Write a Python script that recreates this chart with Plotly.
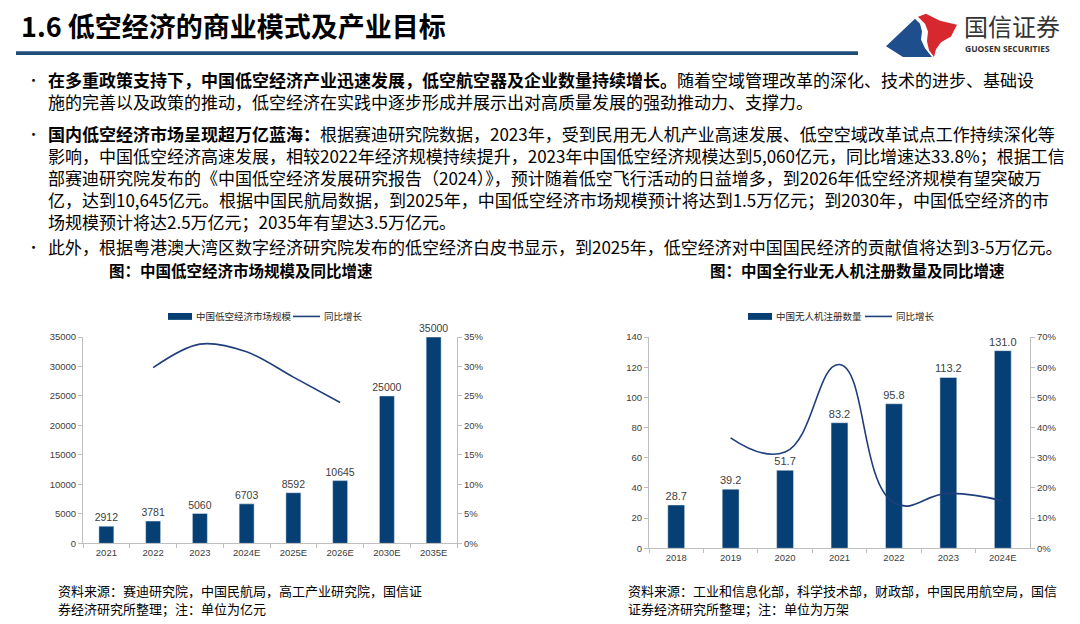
import plotly.graph_objects as go

W, H = 1080, 624

# left chart: low-altitude economy market size (100m yuan) and yoy growth
market_years = ["2021", "2022", "2023", "2024E", "2025E", "2026E", "2030E", "2035E"]
market_size = [2912, 3781, 5060, 6703, 8592, 10645, 25000, 35000]
market_yoy = [None, 0.298, 0.338, 0.325, 0.282, 0.239, None, None]

# right chart: registered drones (10k units) and yoy growth
drone_years = ["2018", "2019", "2020", "2021", "2022", "2023", "2024E"]
drone_count = [28.7, 39.2, 51.7, 83.2, 95.8, 113.2, 131.0]
drone_yoy = [None, 0.366, 0.319, 0.609, 0.151, 0.182, 0.157]

BAR = "#063f73"
LINE = "#1f3e7c"
AXIS = "#bfbfbf"
TICK = "#404040"
CJK = "Noto Sans CJK SC"
SANS = "Liberation Sans"


def px(x):
    return x / W


def py(y):
    return 1 - y / H


fig = go.Figure()

fig.add_trace(go.Bar(
    x=market_years, y=market_size, width=0.32, marker_color=BAR,
    text=market_size, textposition="outside", cliponaxis=False, constraintext="none",
    textfont=dict(family=SANS, size=10.5, color=TICK),
    xaxis="x", yaxis="y", showlegend=False,
))
fig.add_trace(go.Scatter(
    x=market_years, y=market_yoy, mode="lines",
    line=dict(color=LINE, width=1.6, shape="spline", smoothing=1.0),
    xaxis="x", yaxis="y2", showlegend=False,
))
fig.add_trace(go.Bar(
    x=drone_years, y=drone_count, width=0.31, marker_color=BAR,
    text=[f"{v:.1f}" for v in drone_count], textposition="outside", cliponaxis=False,
    constraintext="none",
    textfont=dict(family=SANS, size=11, color=TICK),
    xaxis="x2", yaxis="y3", showlegend=False,
))
fig.add_trace(go.Scatter(
    x=drone_years, y=drone_yoy, mode="lines",
    line=dict(color=LINE, width=1.6, shape="spline", smoothing=1.3),
    xaxis="x2", yaxis="y4", showlegend=False,
))

xcommon = dict(type="category", showline=True, linecolor=AXIS, linewidth=1,
               ticks="outside", tickson="boundaries", ticklen=4, tickcolor=AXIS,
               tickfont=dict(family=SANS, size=9.5, color=TICK), showgrid=False)
ycommon = dict(showline=True, linecolor=AXIS, linewidth=1, ticks="outside",
               ticklen=4, tickcolor=AXIS, showgrid=False, zeroline=False,
               tickfont=dict(family=SANS, size=9.5, color=TICK))

fig.update_layout(
    width=W, height=H,
    margin=dict(l=0, r=0, t=0, b=0),
    paper_bgcolor="white", plot_bgcolor="white",
    xaxis=dict(domain=[px(83), px(457)], anchor="y", **xcommon),
    yaxis=dict(domain=[py(547), py(337)], anchor="x", range=[0, 35000], dtick=5000,
               tickformat="d", **ycommon),
    yaxis2=dict(overlaying="y", anchor="x", side="right", range=[0, 0.35], dtick=0.05,
                tickformat=".0%", **ycommon),
    xaxis2=dict(domain=[px(649), px(1030)], anchor="y3", **xcommon),
    yaxis3=dict(domain=[py(552), py(337)], anchor="x2", range=[0, 140], dtick=20, **ycommon),
    yaxis4=dict(overlaying="y3", anchor="x2", side="right", range=[0, 0.7], dtick=0.1,
                tickformat=".0%", **ycommon),
)

shapes = []
annotations = []


def text(x, y, s, size, bold=False, color="#000000", anchor="left", family=CJK):
    if bold:
        s = "<b>" + s + "</b>"
    annotations.append(dict(
        x=px(x), y=py(y), xref="paper", yref="paper", text=s, showarrow=False,
        xanchor=anchor, yanchor="middle", align=anchor, borderpad=0,
        font=dict(family=family, size=size, color=color),
    ))


def poly(points, color):
    d = "M " + " L ".join(f"{px(a):.5f},{py(b):.5f}" for a, b in points) + " Z"
    shapes.append(dict(type="path", xref="paper", yref="paper", path=d,
                       fillcolor=color, line=dict(width=0)))


# header
text(20, 20, "1.6 低空经济的商业模式及产业目标", 27, bold=True)
shapes.append(dict(type="rect", xref="paper", yref="paper",
                   x0=px(16), x1=px(858), y0=py(50), y1=py(46),
                   fillcolor="#1f4e79", line=dict(width=0)))

# logo
poly([(886, 41), (915, 13), (920, 18), (922, 26), (921, 34), (925, 43), (932, 52), (903, 52)], "#1f4e8c")
poly([(918, 11), (926, 8), (940, 15), (957, 19), (951, 31), (941, 37), (936, 44), (934, 52),
      (929, 45), (927, 36), (928, 26), (925, 18)], "#d7282f")
text(963, 20, "国信证券", 24, color="#333333")
text(964, 43, "<b>GUOSEN SECURITIES</b>", 8.5, color="#333333", family="Open Sans")

# body paragraphs, one block each, broken where the reference breaks
body = 17
paragraphs = [
    (75, [
        "<b>在多重政策支持下，中国低空经济产业迅速发展，低空航空器及企业数量持续增长。</b>随着空域管理改革的深化、技术的进步、基础设",
        "施的完善以及政策的推动，低空经济在实践中逐步形成并展示出对高质量发展的强劲推动力、支撑力。",
    ]),
    (130, [
        "<b>国内低空经济市场呈现超万亿蓝海：</b>根据赛迪研究院数据，2023年，受到民用无人机产业高速发展、低空空域改革试点工作持续深化等",
        "影响，中国低空经济高速发展，相较2022年经济规模持续提升，2023年中国低空经济规模达到5,060亿元，同比增速达33.8%；根据工信",
        "部赛迪研究院发布的《中国低空经济发展研究报告（2024）》，预计随着低空飞行活动的日益增多，到2026年低空经济规模有望突破万",
        "亿，达到10,645亿元。根据中国民航局数据，到2025年，中国低空经济市场规模预计将达到1.5万亿元；到2030年，中国低空经济的市",
        "场规模预计将达2.5万亿元；2035年有望达3.5万亿元。",
    ]),
    (245, [
        "此外，根据粤港澳大湾区数字经济研究院发布的低空经济白皮书显示，到2025年，低空经济对中国国民经济的贡献值将达到3-5万亿元。",
    ]),
]
step = body * 1.3
for y0, rows in paragraphs:
    text(26, y0, "•", 13)
    mid = y0 + step * (len(rows) - 1) / 2
    text(47, mid, "<br>".join(rows), body)

# chart titles
text(241, 269, "图：中国低空经济市场规模及同比增速", 15.5, bold=True, anchor="center")
text(857, 269, "图：中国全行业无人机注册数量及同比增速", 15.5, bold=True, anchor="center")

# legends (drawn by hand to match the wide swatches)
legends = [
    (168, 192, 195, 293, 320, 323, "中国低空经济市场规模"),
    (748, 772, 775, 865, 892, 895, "中国无人机注册数量"),
]
for r0, r1, t0, l0, l1, t1, name in legends:
    shapes.append(dict(type="rect", xref="paper", yref="paper", x0=px(r0), x1=px(r1),
                       y0=py(319.5), y1=py(312.5), fillcolor=BAR, line=dict(width=0)))
    shapes.append(dict(type="line", xref="paper", yref="paper", x0=px(l0), x1=px(l1),
                       y0=py(316), y1=py(316), line=dict(color=LINE, width=1.6)))
    text(t0, 316, name, 9.5, color="#262626")
    text(t1, 316, "同比增长", 9.5, color="#262626")

# sources
text(57, 595, "资料来源：赛迪研究院，中国民航局，高工产业研究院，国信证", 13)
text(57, 613, "券经济研究所整理；注：单位为亿元", 13)
text(627, 595, "资料来源：工业和信息化部，科学技术部，财政部，中国民用航空局，国信", 13)
text(627, 613, "证券经济研究所整理；注：单位为万架", 13)

fig.update_layout(shapes=shapes, annotations=annotations)

fig.write_html(
    "out.html",
    config={"displayModeBar": False},
    post_script="document.body.style.margin='0';document.body.style.overflow='hidden';"
                "document.documentElement.style.overflow='hidden';",
)
